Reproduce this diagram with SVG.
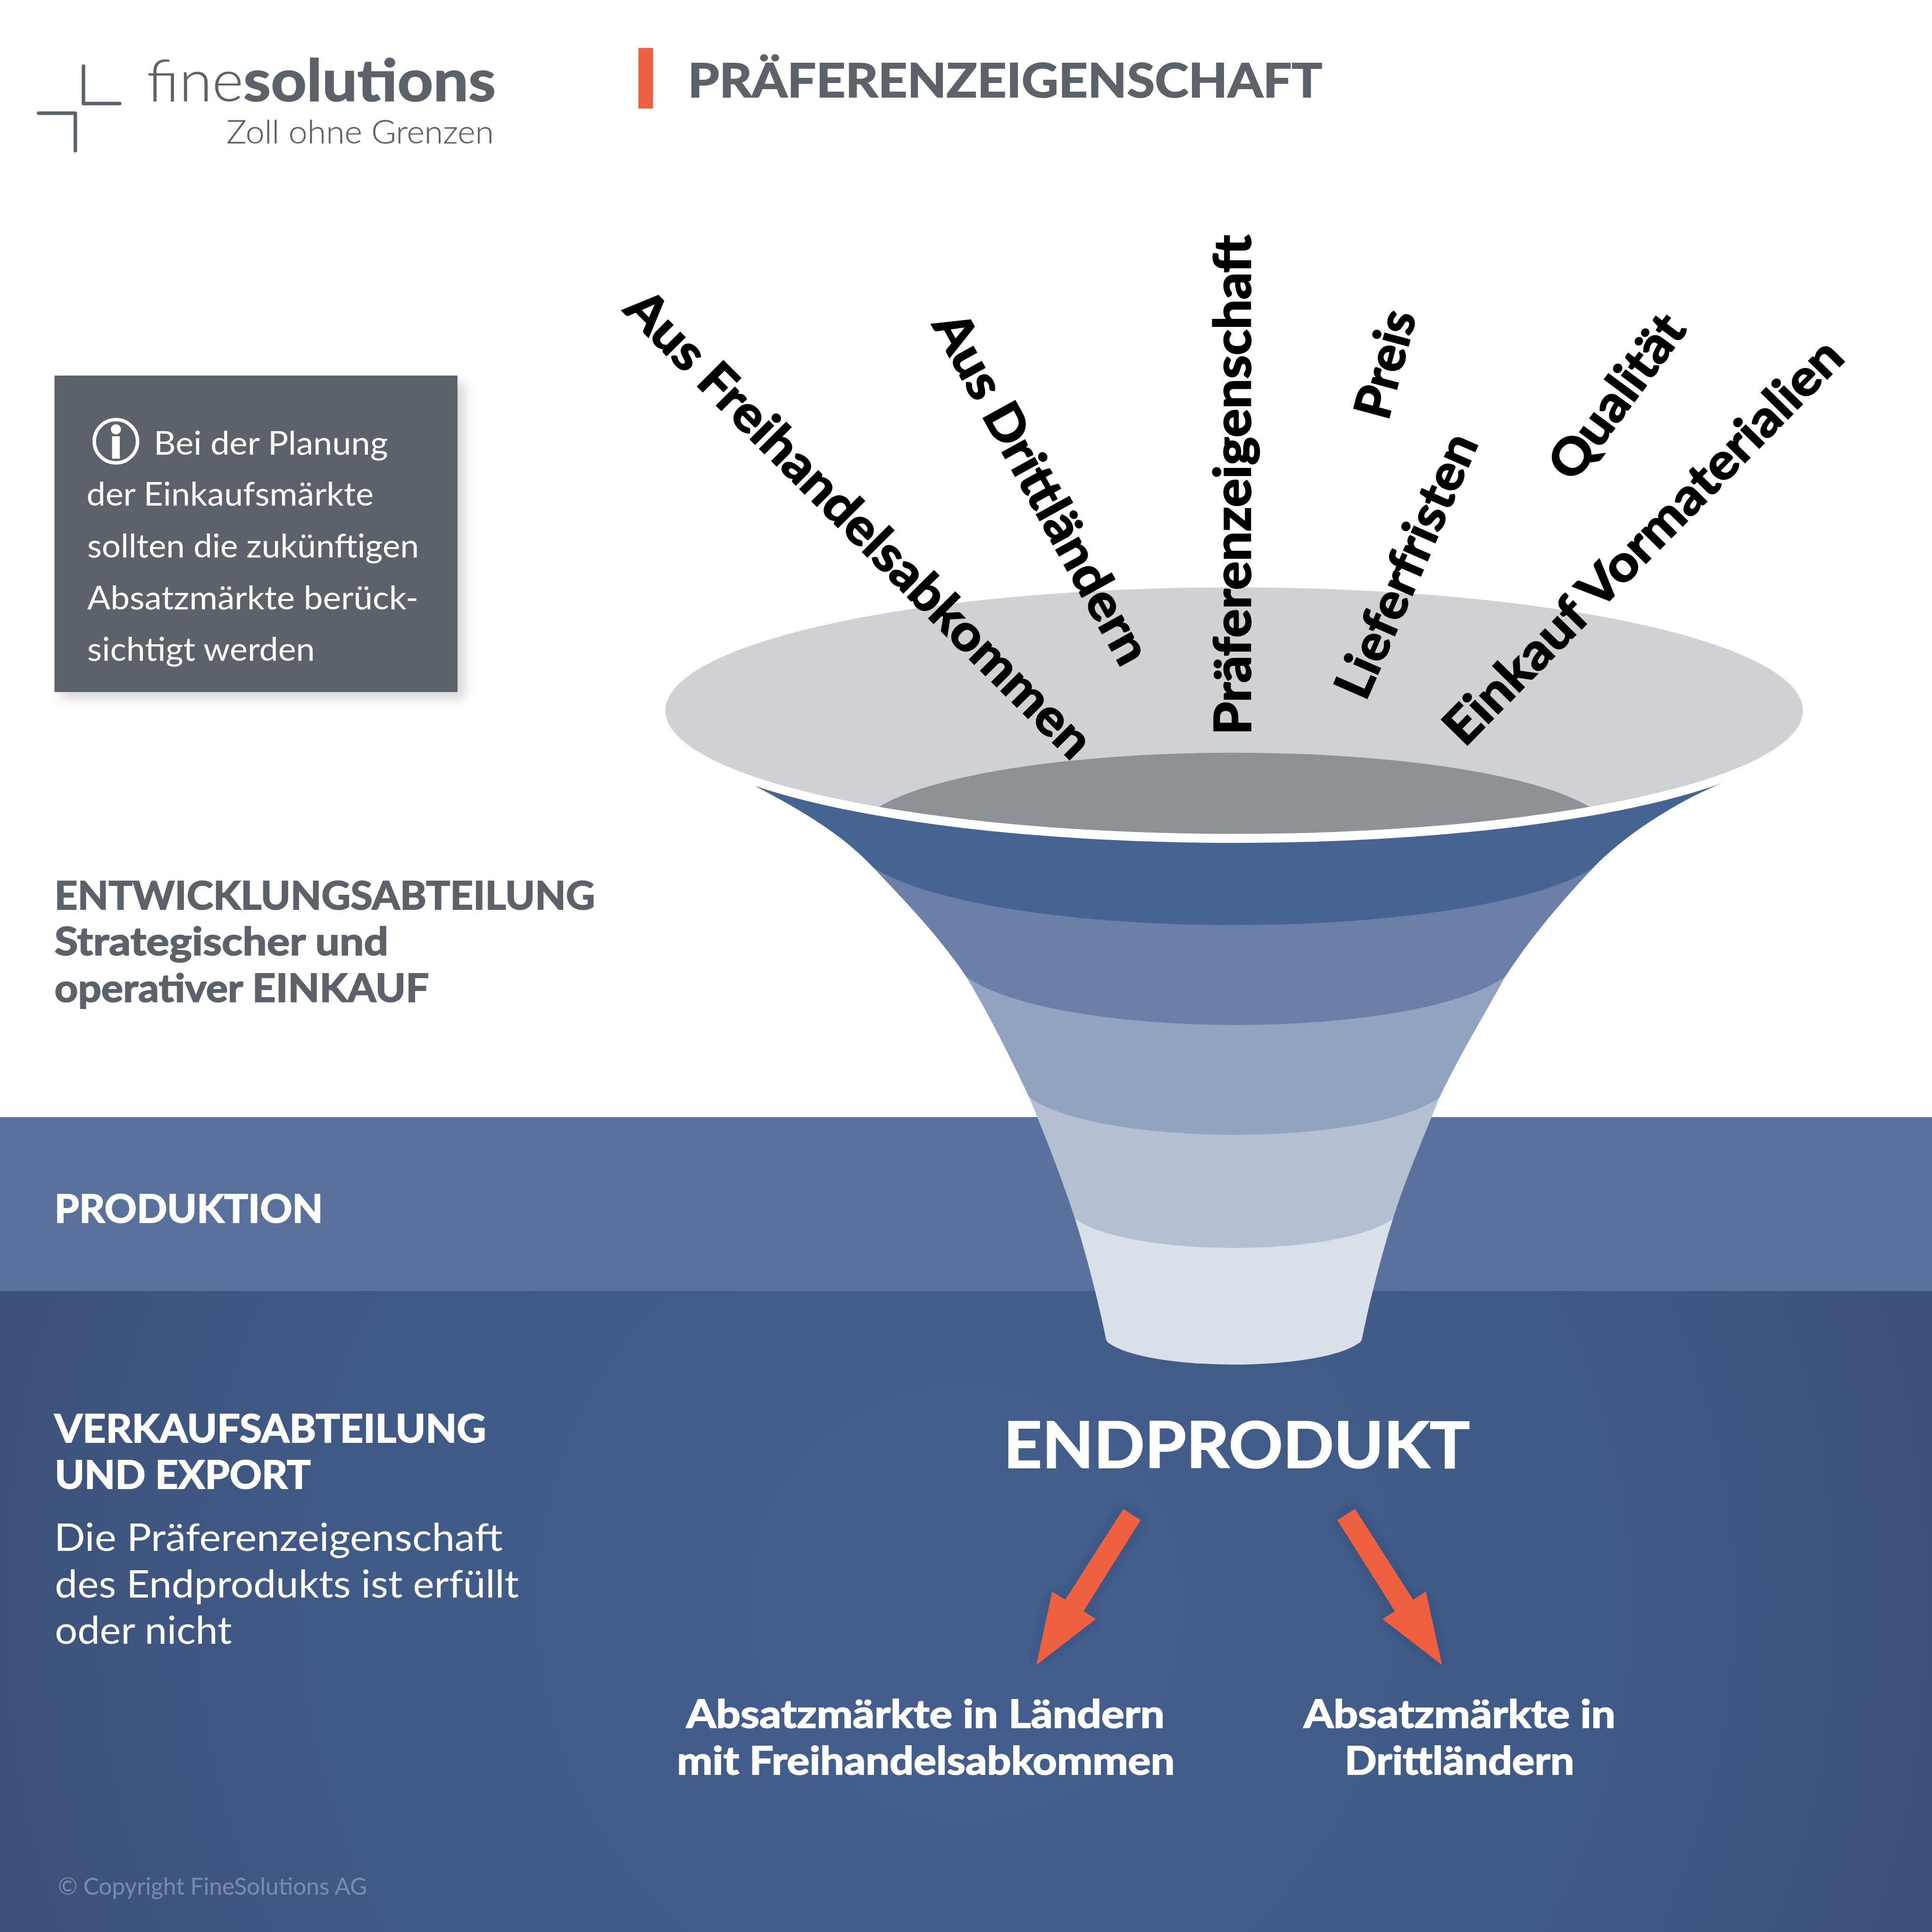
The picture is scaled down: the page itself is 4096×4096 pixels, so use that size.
<svg xmlns="http://www.w3.org/2000/svg" width="4096" height="4096" viewBox="0 0 4096 4096">
<style>
text{font-family:"Lato","Noto Sans","Liberation Sans",sans-serif}
.b{font-weight:700;stroke-width:2.5px}
.r{font-weight:400}
.l{font-weight:300}
.g{fill:#5c6269;stroke:#5c6269}
.w{fill:#fff;stroke:#fff;stroke-width:0}
.w.b{stroke-width:2.5px}
.g.l{stroke-width:.6px}
.k{fill:#000;stroke:#000;stroke-width:3.5px;font-weight:700;font-size:130px}
.mark{fill:none;stroke:#5c6269;stroke-width:9;stroke-linecap:round;stroke-linejoin:round}
.arrow{fill:#ee6041;filter:url(#softA)}
</style>
<defs>
<radialGradient id="bgGrad" gradientUnits="userSpaceOnUse" cx="2500" cy="4150" r="2900">
<stop offset="0" stop-color="#445f8e"/><stop offset="0.55" stop-color="#405a87"/><stop offset="1" stop-color="#3b4f76"/>
</radialGradient>
<filter id="softB" x="-10%" y="-10%" width="125%" height="125%"><feDropShadow dx="18" dy="18" stdDeviation="14" flood-color="#000" flood-opacity="0.16"/></filter>
<filter id="softA" x="-30%" y="-30%" width="160%" height="160%"><feDropShadow dx="0" dy="0" stdDeviation="14" flood-color="#1e2c4a" flood-opacity="0.3"/></filter>
<clipPath id="rimClip"><ellipse cx="3194" cy="1839" rx="1472" ry="319"/></clipPath>
</defs>
<g transform="scale(0.8192)">
<rect id="page" width="5000" height="5000" fill="#fff"/>
<rect id="band-production" x="0" y="2891" width="5000" height="451" fill="#5a719d"/>
<rect id="band-sales" x="0" y="3341" width="5000" height="1659" fill="url(#bgGrad)"/>

<g id="logo">
<path class="mark" d="M216,171V268H310"/>
<path class="mark" d="M100,293H195V390"/>
<text x="380" y="261" font-size="150" class="g l" textLength="250" lengthAdjust="spacingAndGlyphs">fine</text>
<text x="630" y="261" font-size="150" class="g b" textLength="653" lengthAdjust="spacingAndGlyphs">solutions</text>
<text x="586" y="371" font-size="85" class="g l" textLength="692" lengthAdjust="spacingAndGlyphs">Zoll ohne Grenzen</text>
</g>

<g id="title">
<rect x="1652" y="124" width="38" height="157" fill="#ee6041"/>
<text x="1780" y="252" font-size="122" class="g b" textLength="1642" lengthAdjust="spacingAndGlyphs">PRÄFERENZEIGENSCHAFT</text>
</g>

<g id="info-box">
<rect x="141" y="972" width="1043" height="819" fill="#5c6269" filter="url(#softB)"/>
<ellipse cx="300" cy="1142" rx="56" ry="56" fill="none" stroke="#fff" stroke-width="9"/>
<circle cx="300" cy="1111" r="13" fill="#fff"/>
<rect x="290" y="1129" width="20" height="58" fill="#fff"/>
<text x="398" y="1177" font-size="86" class="w r" textLength="606" lengthAdjust="spacingAndGlyphs">Bei der Planung</text>
<text x="224" y="1309" font-size="86" class="w r" textLength="743" lengthAdjust="spacingAndGlyphs">der Einkaufsmärkte</text>
<text x="226" y="1443" font-size="86" class="w r" textLength="858" lengthAdjust="spacingAndGlyphs">sollten die zukünftigen</text>
<text x="226" y="1577" font-size="86" class="w r" textLength="857" lengthAdjust="spacingAndGlyphs">Absatzmärkte berück-</text>
<text x="226" y="1710" font-size="86" class="w r" textLength="589" lengthAdjust="spacingAndGlyphs">sichtigt werden</text>
</g>

<g id="dept-development">
<text x="141" y="2353" font-size="100" class="g b" textLength="1399" lengthAdjust="spacingAndGlyphs">ENTWICKLUNGSABTEILUNG</text>
<text x="141" y="2472" font-size="100" class="g b" textLength="864" lengthAdjust="spacingAndGlyphs">Strategischer und</text>
<text x="141" y="2593" font-size="100" class="g b" textLength="969" lengthAdjust="spacingAndGlyphs">operativer EINKAUF</text>
</g>
<g id="dept-production">
<text x="141" y="3164" font-size="100" class="w b" textLength="695" lengthAdjust="spacingAndGlyphs">PRODUKTION</text>
</g>
<g id="dept-sales">
<text x="141" y="3733" font-size="100" class="w b" textLength="1117" lengthAdjust="spacingAndGlyphs">VERKAUFSABTEILUNG</text>
<text x="142" y="3852" font-size="100" class="w b" textLength="662" lengthAdjust="spacingAndGlyphs">UND EXPORT</text>
<text x="140" y="4014" font-size="100" class="w r" textLength="1161" lengthAdjust="spacingAndGlyphs">Die Präferenzeigenschaft</text>
<text x="142" y="4134" font-size="100" class="w r" textLength="1201" lengthAdjust="spacingAndGlyphs">des Endprodukts ist erfüllt</text>
<text x="142" y="4254" font-size="100" class="w r" textLength="458" lengthAdjust="spacingAndGlyphs">oder nicht</text>
</g>

<g id="funnel">
<ellipse id="funnel-rim" cx="3194" cy="1839" rx="1472" ry="319" fill="#cfd1d5"/>
<ellipse id="funnel-throat" cx="3194" cy="2158" rx="975" ry="210" fill="#8e9196" clip-path="url(#rimClip)"/>
<path id="funnel-level-5" fill="#d9e0ea" d="M2782,3154C2807,3232 2842,3364 2862,3464Q2864,3474 2873,3478A337,78 0 0 0 3513,3478Q3523,3474 3525,3464C3545,3364 3580,3232 3605,3154Z"/>
<path id="funnel-level-4" fill="#b4c0d2" d="M2663,2839C2703,2934 2749,3052 2782,3154A433,110 0 0 0 3605,3154C3638,3049 3686,2939 3726,2839Z"/>
<path id="funnel-level-3" fill="#91a3be" d="M2500,2527C2552,2612 2613,2732 2663,2839A559,142 0 0 0 3726,2839C3776,2734 3841,2627 3896,2527Z"/>
<path id="funnel-level-2" fill="#6c7fa8" d="M2258,2243C2338,2328 2430,2422 2500,2527A735,183 0 0 0 3896,2527C3961,2427 4038,2336 4123,2246Z"/>
<path id="funnel-level-1" fill="#466492" d="M1954,2034C2050,2085 2168,2148 2258,2243A981,217 0 0 0 4123,2246C4210,2155 4350,2070 4456,2027A1472,319 0 0 1 1954,2034Z"/>
</g>

<g id="labels">
<text class="k" transform="translate(1610,804) rotate(45.1)" textLength="1648" lengthAdjust="spacingAndGlyphs">Aus Freihandelsabkommen</text>
<text class="k" transform="translate(2411,840) rotate(61.1)" textLength="1017" lengthAdjust="spacingAndGlyphs">Aus Drittländern</text>
<text class="k" transform="translate(3236,1902) rotate(-90)" textLength="1294" lengthAdjust="spacingAndGlyphs">Präferenzeigenschaft</text>
<text class="k" transform="translate(3592,1091) rotate(-75)" textLength="284" lengthAdjust="spacingAndGlyphs">Preis</text>
<text class="k" transform="translate(3534,1817) rotate(-66.4)" textLength="732" lengthAdjust="spacingAndGlyphs">Lieferfristen</text>
<text class="k" transform="translate(4072,1252) rotate(-53.4)" textLength="496" lengthAdjust="spacingAndGlyphs">Qualität</text>
<text class="k" transform="translate(3790,1936) rotate(-45.5)" textLength="1410" lengthAdjust="spacingAndGlyphs">Einkauf Vormaterialien</text>
</g>

<g id="endprodukt">
<text x="2597" y="3799" font-size="165" class="w b" textLength="1207" lengthAdjust="spacingAndGlyphs">ENDPRODUKT</text>
</g>

<g id="connectors">
<path class="arrow" d="M2907,3905L2952,3934L2804,4170L2836,4190L2682,4309L2723,4119L2757,4140Z"/>
<path class="arrow" d="M3507,3905L3461,3934L3610,4170L3578,4190L3732,4309L3690,4119L3657,4140Z"/>
</g>

<g id="market-free-trade">
<text x="1776" y="4471" font-size="100" class="w b" textLength="1238" lengthAdjust="spacingAndGlyphs">Absatzmärkte in Ländern</text>
<text x="1752" y="4592" font-size="100" class="w b" textLength="1288" lengthAdjust="spacingAndGlyphs">mit Freihandelsabkommen</text>
</g>
<g id="market-third">
<text x="3374" y="4471" font-size="100" class="w b" textLength="807" lengthAdjust="spacingAndGlyphs">Absatzmärkte in</text>
<text x="3480" y="4592" font-size="100" class="w b" textLength="594" lengthAdjust="spacingAndGlyphs">Drittländern</text>
</g>
<text id="copyright" x="150" y="4903" font-size="62" fill="#7a8cac" class="r" textLength="800" lengthAdjust="spacingAndGlyphs">© Copyright FineSolutions AG</text>
</g>
</svg>
